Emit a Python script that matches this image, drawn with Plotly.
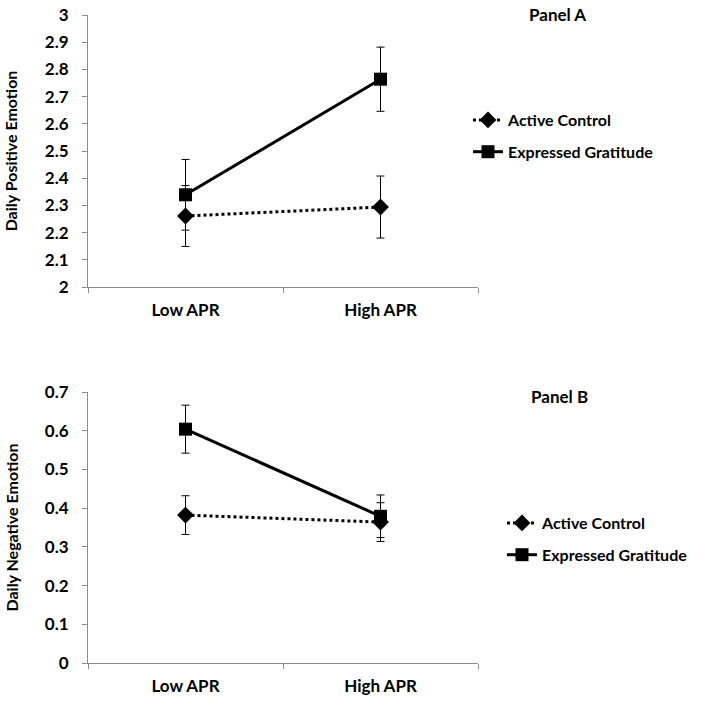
import plotly.graph_objects as go

categories = ["Low APR", "High APR"]

# Panel A: Daily Positive Emotion
pos_control = [2.261, 2.294]
pos_control_err = [0.112, 0.114]
pos_gratitude = [2.339, 2.764]
pos_gratitude_err = [0.130, 0.118]

# Panel B: Daily Negative Emotion
neg_control = [0.382, 0.364]
neg_control_err = [0.050, 0.050]
neg_gratitude = [0.604, 0.379]
neg_gratitude_err = [0.062, 0.055]

series_names = ["Active Control", "Expressed Gratitude"]
panel_titles = ["Panel A", "Panel B"]
y_titles = ["Daily Positive Emotion", "Daily Negative Emotion"]
pos_ticks = [2, 2.1, 2.2, 2.3, 2.4, 2.5, 2.6, 2.7, 2.8, 2.9, 3]
pos_ticktext = ["2", "2.1", "2.2", "2.3", "2.4", "2.5", "2.6", "2.7", "2.8", "2.9", "3"]
neg_ticks = [0, 0.1, 0.2, 0.3, 0.4, 0.5, 0.6, 0.7]
neg_ticktext = ["0", "0.1", "0.2", "0.3", "0.4", "0.5", "0.6", "0.7"]

FONT = "Lato"
W = 704

def fx(px):
    return px / W

def fy(py):
    return 1 - py / W

fig = go.Figure()

def add_pair(ctrl, ctrl_err, grat, grat_err, xa, ya, legend):
    fig.add_trace(go.Scatter(
        x=categories, y=ctrl, name=series_names[0], xaxis=xa, yaxis=ya,
        mode="lines+markers", legend=legend, legendgroup=legend + "a",
        line=dict(color="black", width=3, dash="dot"),
        marker=dict(symbol="diamond", size=13, color="black"),
        error_y=dict(type="data", array=ctrl_err, color="black", thickness=1, width=4),
    ))
    fig.add_trace(go.Scatter(
        x=categories, y=grat, name=series_names[1], xaxis=xa, yaxis=ya,
        mode="lines+markers", legend=legend, legendgroup=legend + "b",
        line=dict(color="black", width=3),
        marker=dict(symbol="square", size=13, color="black"),
        error_y=dict(type="data", array=grat_err, color="black", thickness=1, width=4),
    ))

add_pair(pos_control, pos_control_err, pos_gratitude, pos_gratitude_err, "x", "y", "legend")
add_pair(neg_control, neg_control_err, neg_gratitude, neg_gratitude_err, "x2", "y2", "legend2")

xdom = [fx(88), fx(478)]
ydomA = [fy(287), fy(15)]
ydomB = [fy(663), fy(392)]

tickfont = dict(family=FONT, size=17, color="black", weight="bold")
titlefont = dict(family=FONT, size=16, color="black", weight="bold")

axis_common = dict(showline=True, linecolor="#8c8c8c", linewidth=1, ticks="outside",
                   tickcolor="#8c8c8c", ticklen=5, showgrid=False, zeroline=False,
                   automargin=False, tickfont=tickfont, ticklabeloverflow="allow")

xcommon = dict(axis_common, type="category", tickson="boundaries", range=[-0.5, 1.5],
               domain=xdom, ticklabelstandoff=8)

fig.update_layout(
    width=W, height=W,
    margin=dict(l=0, r=0, t=0, b=0, autoexpand=False),
    paper_bgcolor="white", plot_bgcolor="white",
    font=dict(family=FONT, color="black"),
    xaxis=dict(xcommon, anchor="y"),
    xaxis2=dict(xcommon, anchor="y2"),
    yaxis=dict(axis_common, domain=ydomA, anchor="x", range=[2, 3],
               tickmode="array", tickvals=pos_ticks, ticktext=pos_ticktext,
               ticklabelstandoff=10,
               title=dict(text=y_titles[0], font=titlefont, standoff=23)),
    yaxis2=dict(axis_common, domain=ydomB, anchor="x2", range=[0, 0.7],
                tickmode="array", tickvals=neg_ticks, ticktext=neg_ticktext,
                ticklabelstandoff=10,
                title=dict(text=y_titles[1], font=titlefont, standoff=22)),
    legend=dict(x=fx(468), y=fy(103), xanchor="left", yanchor="top",
                font=dict(family=FONT, size=16, color="black", weight="bold"),
                tracegroupgap=8, traceorder="grouped", bgcolor="rgba(0,0,0,0)"),
    legend2=dict(x=fx(502), y=fy(506), xanchor="left", yanchor="top",
                 font=dict(family=FONT, size=16, color="black", weight="bold"),
                 tracegroupgap=8, traceorder="grouped", bgcolor="rgba(0,0,0,0)"),
    annotations=[
        dict(text="<b>" + panel_titles[0] + "</b>", x=fx(588), y=fy(14),
             xref="paper", yref="paper", showarrow=False, yanchor="middle",
             font=dict(family=FONT, size=17, color="black")),
        dict(text="<b>" + panel_titles[1] + "</b>", x=fx(590), y=fy(396),
             xref="paper", yref="paper", showarrow=False, yanchor="middle",
             font=dict(family=FONT, size=17, color="black")),
    ],
)

fig.write_html("out.html", config={"displayModeBar": False},
               post_script="document.body.style.margin='0';")
